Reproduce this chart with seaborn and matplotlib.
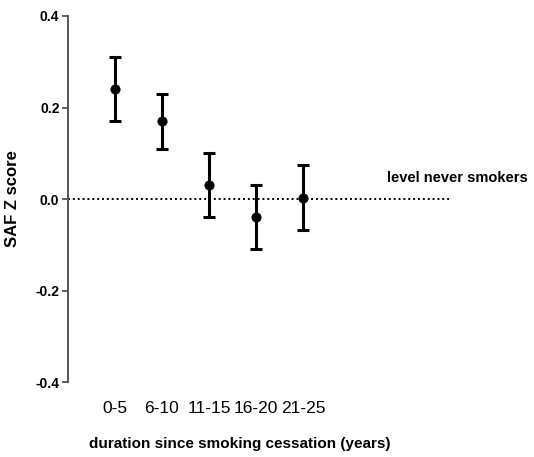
import matplotlib
matplotlib.use("Agg")
import matplotlib.pyplot as plt
import seaborn as sns
import pandas as pd

# values
groups = ["0-5", "6-10", "11-15", "16-20", "21-25"]
means = [0.24, 0.17, 0.03, -0.04, 0.003]
lower = [0.17, 0.11, -0.04, -0.11, -0.068]
upper = [0.31, 0.23, 0.10, 0.03, 0.074]
yticks = [-0.4, -0.2, 0.0, 0.2, 0.4]

df = pd.DataFrame({"group": groups, "mean": means, "lo": lower, "hi": upper})
df["pos"] = range(len(groups))

sns.set_style("white", {"text.color": "black", "axes.labelcolor": "black",
                        "xtick.color": "black", "ytick.color": "black"})
plt.rcParams["font.family"] = ["Liberation Sans", "DejaVu Sans"]

fig = plt.figure(figsize=(5.34, 4.57), dpi=100)
ax = fig.add_axes([0.127, 0.164, 0.716, 0.801])

# reference line = never smokers
ax.axhline(0, color="black", ls=(0, (1, 1.5)), lw=1.4, zorder=1)

ax.errorbar(df["pos"], df["mean"],
            yerr=[df["mean"] - df["lo"], df["hi"] - df["mean"]],
            fmt="none", ecolor="black", elinewidth=2.2, capsize=4, capthick=2.2, zorder=2)
sns.scatterplot(data=df, x="pos", y="mean", color="black", s=45, edgecolor="black",
                zorder=3, ax=ax, legend=False)

ax.set_xlim(-1.0, 7.13)
ax.set_ylim(-0.4, 0.4)
ax.set_yticks(yticks)
ax.set_yticklabels([f"{v:.1f}" for v in yticks], fontsize=10, fontweight="bold")
ax.set_xticks(df["pos"])
ax.set_xticklabels(groups, fontsize=12.5)
ax.tick_params(axis="x", length=0, pad=14)
ax.tick_params(axis="y", length=4, width=1.2, direction="out", left=True, pad=2, color="#444444")

for s in ["top", "right", "bottom"]:
    ax.spines[s].set_visible(False)
ax.spines["left"].set_color("#555555")
ax.spines["left"].set_linewidth(1.4)

ax.set_xlabel("duration since smoking cessation (years)", fontsize=11, fontweight="bold")
ax.set_ylabel("SAF Z score", fontsize=12, fontweight="bold")
ax.xaxis.set_label_coords(0.45, -0.15)
ax.yaxis.set_label_coords(-0.125, 0.5)

ax.text(0.835, 0.046, "level never smokers", transform=ax.get_yaxis_transform(),
        fontsize=10.5, fontweight="bold", ha="left", va="center", clip_on=False)

fig.savefig("out.png", dpi=100)
